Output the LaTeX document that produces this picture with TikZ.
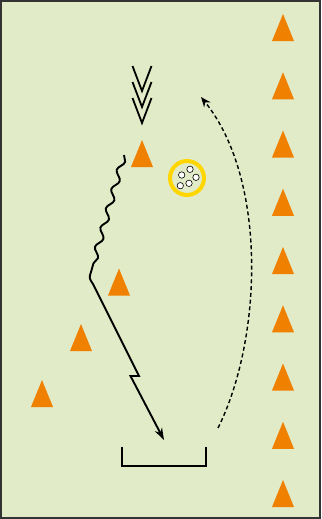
\documentclass[tikz,border=0pt]{standalone}
\usepackage{tikz}
\usetikzlibrary{arrows.meta,positioning,decorations.pathmorphing}

\definecolor{pitchgreen}{RGB}{226,235,199}
\definecolor{coneorange}{RGB}{240,128,0}
\definecolor{ringyellow}{RGB}{255,214,0}

\begin{document}
\begin{tikzpicture}[
  x=0.05cm, y=-0.05cm,
  pitch/.style={fill=pitchgreen, draw=black!80, line width=1mm},
  run/.style={draw, line width=0.95mm, line join=miter},
  dribble/.style={run, decorate, decoration={snake, amplitude=0.15cm, segment length=1cm}},
  shot/.style={run, -{Stealth[length=6mm, width=4mm]}},
  pass/.style={draw, line width=0.7mm, dash pattern=on 2mm off 1.4mm, -{Stealth[length=5mm, width=4mm]}},
  chevron/.style={draw, line width=0.9mm, line join=miter},
  goal/.style={draw, line width=0.7mm},
  ball/.style={circle, draw=ringyellow, line width=2mm, minimum size=1.7cm, inner sep=0pt},
  pellet/.style={draw, fill=white, line width=0.3mm},
  pics/cone/.style={code={\fill[coneorange] (-11,13.5) -- (0,-13.5) -- (11,13.5) -- cycle;}}
]
\useasboundingbox (0,0) rectangle (321,519);
\path[pitch] (1,1) rectangle (320,518);

% cones
\foreach \i in {0,...,8}
  \pic at (283,{27.5+58.25*\i}) {cone};
\foreach \p in {(142,153.5),(119,282),(81,337.5),(42,393.5)}
  \pic at \p {cone};

% chevrons
\foreach \t in {66,82,98}
  \draw[chevron] (132.5,\t) -- (142,\t+25) -- (151.5,\t);

% ball
\node[ball] (ball) at (187,178) {};
\foreach \p in {(181.7,175),(190,169.3),(196,177.3),(180.3,185.7),(189,183.3)}
  \draw[pellet] \p circle[radius=3.2];

% runs
\coordinate (runstart) at (124,155);
\coordinate (runbend) at (91,272);
\coordinate (zigA) at (139,376);
\coordinate (zigB) at (130.5,376);
\coordinate (shottip) at (164,440);
\draw[dribble] (runstart) -- (runbend);
\draw[shot] (runbend) .. controls (89,278) .. (93,284) -- (zigA) -- (zigB) -- (shottip);

\coordinate (passstart) at (218,428);
\coordinate (passend) at (201,97);
\draw[pass] (passstart) .. controls (262,340) and (268,180) .. (passend);

% goal
\coordinate (postL) at (122,447);
\coordinate (postR) at (206,447);
\draw[goal] (postL) -- (122,466) -- (206,466) -- (postR);
\end{tikzpicture}
\end{document}
